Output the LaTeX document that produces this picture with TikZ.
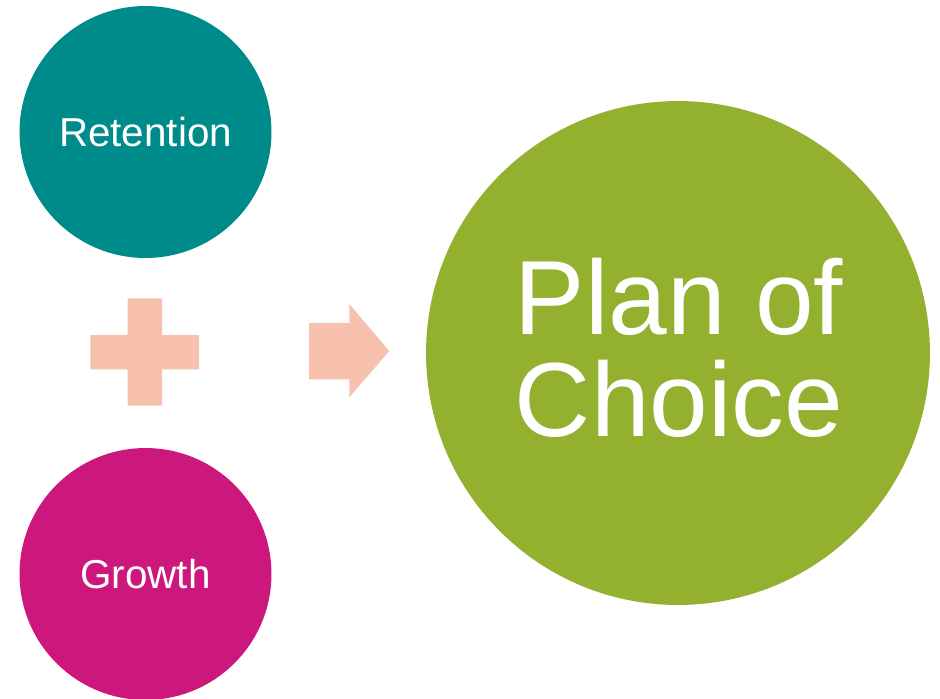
\documentclass[tikz,border=0pt]{standalone}
\usepackage{fontspec}
\setmainfont{Liberation Sans}
\usetikzlibrary{shapes}
\definecolor{teal1}{RGB}{0,139,139}
\definecolor{mag1}{RGB}{204,23,125}
\definecolor{grn1}{RGB}{147,177,47}
\definecolor{peach}{RGB}{248,193,174}
\tikzstyle{sm}=[circle,inner sep=0pt,minimum size=5.04cm,text=white,font=\fontsize{23}{27}\selectfont]
\tikzstyle{bg}=[circle,inner sep=0pt,minimum size=10.08cm,text=white,align=center,font=\fontsize{60}{58}\selectfont]
\tikzstyle{sym}=[fill=peach]

\begin{document}
\begin{tikzpicture}[x=0.02cm,y=-0.02cm]
\useasboundingbox (0,0) rectangle (940,698);
\node[sm,fill=teal1] (ret) at (145.5,132) {Retention};
\node[sm,fill=mag1] (grow) at (145.5,574) {Growth};
\node[bg,fill=grn1] (plan) at (678,353) {};
\node[text=white,align=center,font=\fontsize{60}{58}\selectfont] (plantxt) at (679,348) {Plan of\\Choice};
\fill[sym] (90.3,335) -- (127.7,335) -- (127.7,298.3) -- (162,298.3) -- (162,335) -- (199,335)
  -- (199,369.3) -- (162,369.3) -- (162,405.7) -- (127.7,405.7) -- (127.7,369.3) -- (90.3,369.3) -- cycle;
\fill[sym] (309,323) -- (349.3,323) -- (349.3,304) -- (389.3,351) -- (349.3,397.3) -- (349.3,379.3) -- (309,379.3) -- cycle;
\end{tikzpicture}
\end{document}
